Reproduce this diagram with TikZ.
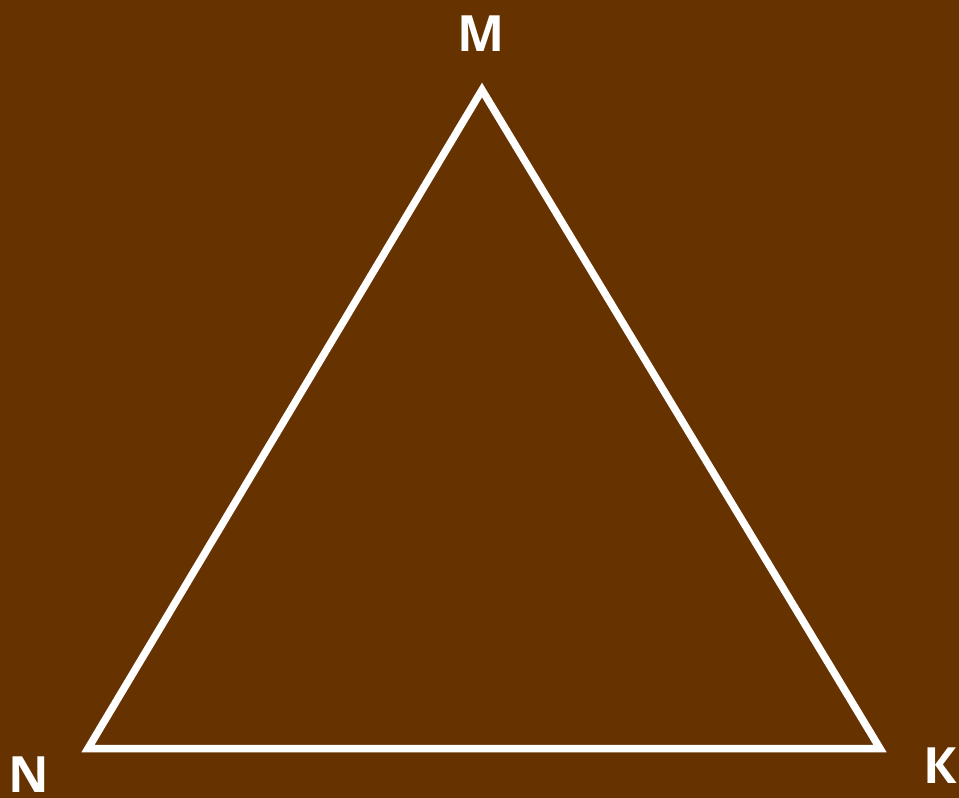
\documentclass[tikz,border=0pt]{standalone}
\usepackage{fontspec}
\setmainfont{Open Sans}
\definecolor{bg}{HTML}{663300}
\begin{document}
\begin{tikzpicture}[x=1pt,y=-1pt,
  lbl/.style={text=white,font=\fontsize{50}{50}\selectfont\bfseries,inner sep=0pt,anchor=base},
  edge/.style={draw=white,line width=7.5pt,line join=miter}]
\fill[bg] (0,0) rectangle (959,798);
\useasboundingbox (0,0) rectangle (959,798);
\coordinate (M) at (482,90);
\coordinate (N) at (88,748.5);
\coordinate (K) at (880,748.5);
\draw[edge] (M) -- (K) -- (N) -- cycle;
\node[lbl] (lm) at (481,51) {M};
\node[lbl] (ln) at (29,792) {N};
\node[lbl] (lk) at (940,783) {К};
\end{tikzpicture}
\end{document}
